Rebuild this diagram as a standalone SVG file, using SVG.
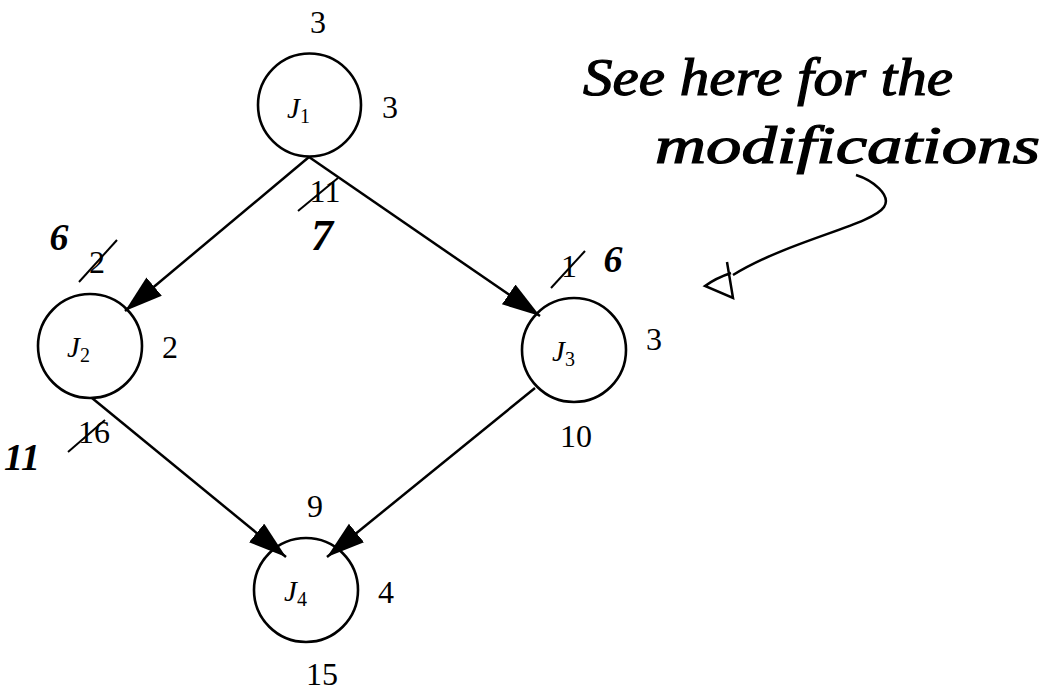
<svg xmlns="http://www.w3.org/2000/svg" width="1056" height="691" viewBox="0 0 1056 691">
<style>
.node{fill:none;stroke:#000;stroke-width:2.6}
.edge{stroke:#000;stroke-width:2.5;fill:none}
.strike{stroke:#000;stroke-width:2;fill:none}
</style>
<defs>
<marker id="ah" markerUnits="userSpaceOnUse" markerWidth="40" markerHeight="26" refX="38" refY="12" orient="auto">
<path d="M0,0 L38,12 L0,24 z" fill="#000"/>
</marker>
</defs>
<rect width="1056" height="691" fill="#fff"/>
<g id="connectors">
<line class="edge" x1="309" y1="157" x2="125" y2="311" marker-end="url(#ah)"/>
<line class="edge" x1="309" y1="157" x2="540" y2="316" marker-end="url(#ah)"/>
<line class="edge" x1="92" y1="398" x2="286" y2="557" marker-end="url(#ah)"/>
<line class="edge" x1="535" y1="388" x2="327" y2="557" marker-end="url(#ah)"/>
</g>
<g id="J1">
<circle class="node" cx="309.5" cy="105" r="51.5"/>
<text x="287" y="118" font-family="Liberation Serif" font-style="italic" font-size="29">J<tspan font-style="normal" font-size="20" dy="5">1</tspan></text>
<text x="318" y="33" font-family="Liberation Serif" font-size="32" text-anchor="middle">3</text>
<text x="390" y="118" font-family="Liberation Serif" font-size="32" text-anchor="middle">3</text>
<text x="325" y="202" font-family="Liberation Serif" font-size="32" text-anchor="middle">11</text>
<line class="strike" x1="298" y1="211" x2="338" y2="178"/>
<text x="322" y="250" font-family="Liberation Serif" font-style="italic" font-weight="bold" font-size="44" text-anchor="middle">7</text>
</g>
<g id="J2">
<circle class="node" cx="90" cy="346" r="52"/>
<text x="67" y="357" font-family="Liberation Serif" font-style="italic" font-size="29">J<tspan font-style="normal" font-size="20" dy="5">2</tspan></text>
<text x="59" y="250" font-family="Liberation Serif" font-style="italic" font-weight="bold" font-size="38" text-anchor="middle">6</text>
<text x="97" y="273" font-family="Liberation Serif" font-size="32" text-anchor="middle">2</text>
<line class="strike" x1="79" y1="282" x2="117" y2="240"/>
<text x="170" y="358" font-family="Liberation Serif" font-size="32" text-anchor="middle">2</text>
<text x="94" y="443" font-family="Liberation Serif" font-size="32" text-anchor="middle">16</text>
<line class="strike" x1="68" y1="452" x2="105" y2="420"/>
<text x="22" y="470" font-family="Liberation Serif" font-style="italic" font-weight="bold" font-size="38" text-anchor="middle">11</text>
</g>
<g id="J3">
<circle class="node" cx="574" cy="350" r="52"/>
<text x="552" y="361" font-family="Liberation Serif" font-style="italic" font-size="29">J<tspan font-style="normal" font-size="20" dy="5">3</tspan></text>
<text x="569" y="277" font-family="Liberation Serif" font-size="32" text-anchor="middle">1</text>
<line class="strike" x1="551" y1="288" x2="585" y2="251"/>
<text x="613" y="272" font-family="Liberation Serif" font-style="italic" font-weight="bold" font-size="38" text-anchor="middle">6</text>
<text x="654" y="350" font-family="Liberation Serif" font-size="32" text-anchor="middle">3</text>
<text x="576" y="447" font-family="Liberation Serif" font-size="32" text-anchor="middle">10</text>
</g>
<g id="J4">
<circle class="node" cx="306" cy="590" r="52"/>
<text x="284" y="601" font-family="Liberation Serif" font-style="italic" font-size="29">J<tspan font-style="normal" font-size="20" dy="5">4</tspan></text>
<text x="315" y="517" font-family="Liberation Serif" font-size="32" text-anchor="middle">9</text>
<text x="386" y="603" font-family="Liberation Serif" font-size="32" text-anchor="middle">4</text>
<text x="322" y="685" font-family="Liberation Serif" font-size="32" text-anchor="middle">15</text>
</g>
<g id="note">
<text x="583" y="95" font-family="Liberation Serif" font-style="italic" font-size="52" stroke="#000" stroke-width="1.2" textLength="370" lengthAdjust="spacingAndGlyphs">See here for the</text>
<text x="655" y="163" font-family="Liberation Serif" font-style="italic" font-size="52" stroke="#000" stroke-width="1.2" textLength="385" lengthAdjust="spacingAndGlyphs">modifications</text>
<path class="edge" d="M856,175 C872,180 892,195 884,207 C872,225 790,240 733,275"/>
<path class="edge" d="M727,262 L733,298 L705,286 Q716,278 731,273"/>
</g>
</svg>
